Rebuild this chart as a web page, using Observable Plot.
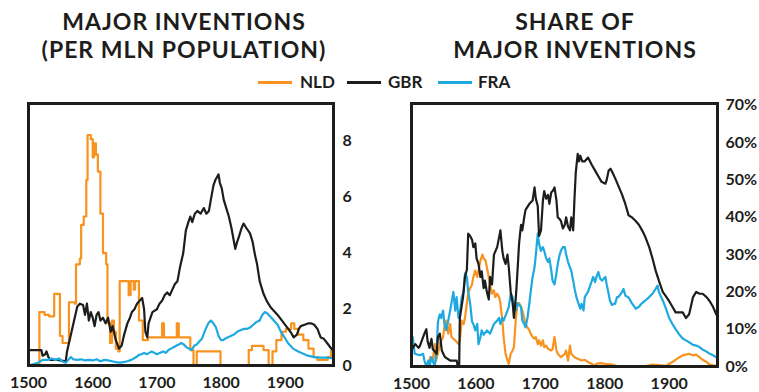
<!DOCTYPE html>
<html>
<head>
<meta charset="utf-8">
<script src="https://cdn.jsdelivr.net/npm/d3@7"></script>
<script src="https://cdn.jsdelivr.net/npm/@observablehq/plot@0.6"></script>
<style>
  html, body { margin: 0; padding: 0; background: #fff; }
  #wrap { position: relative; width: 759px; height: 392px; overflow: hidden; font-family: Lato, "DejaVu Sans", sans-serif; color: #1d1d1b; }
  .title { position: absolute; text-align: center; font-weight: 700; font-size: 23px; line-height: 28px; height: 28px; letter-spacing: 1px; white-space: nowrap; }
  .legend { position: absolute; top: 72px; left: 0; width: 759px; height: 20px; font-weight: 700; font-size: 17px; }
  .legend span.sw { position: absolute; top: 9px; height: 2.5px; }
  .legend span.lb { position: absolute; top: 0; line-height: 20px; }
  .panel { position: absolute; top: 95px; }
  .panel svg { overflow: visible; }
</style>
</head>
<body>
<div id="wrap">
  <div class="title" style="left:34px; width:300px; top:7px;">MAJOR INVENTIONS</div>
  <div class="title" style="left:34px; width:300px; top:35px;">(PER MLN POPULATION)</div>
  <div class="title" style="left:425px; width:300px; top:7px;">SHARE OF</div>
  <div class="title" style="left:425px; width:300px; top:35px;">MAJOR INVENTIONS</div>
  <div class="legend" id="legend"></div>
  <div class="panel" id="left" style="left:0px;"></div>
  <div class="panel" id="right" style="left:380px;"></div>
</div>
<script>
// ---------- data ----------
const seriesNames = ["NLD", "GBR", "FRA"];
const seriesColors = ["#F7931E", "#1d1d1b", "#1EA9E1"];
const yearTicks = [1500, 1600, 1700, 1800, 1900];
const perMlnTicks = [0, 2, 4, 6, 8];
const shareTicks = [0, 10, 20, 30, 40, 50, 60, 70];

// Major inventions per million population [year, value]
const nldPerMln = [[1500,0],[1517,1.9],[1525,1.8],[1532,1.75],[1540,2.55],[1549,1.05],[1553,0.8],[1563,2.25],[1572,2.2],[1574,3.6],[1580,3.8],[1582,5.0],[1586,5.3],[1590,6.6],[1592,8.2],[1597,8.05],[1600,7.4],[1602,7.9],[1605,7.5],[1608,6.9],[1612,5.4],[1616,4.0],[1621,3.6],[1623,1.5],[1627,0.8],[1630,1.6],[1633,1.2],[1636,0.6],[1640,0.5],[1642,3.0],[1654,3.0],[1656,2.5],[1659,3.0],[1664,2.7],[1666,3.0],[1672,1.6],[1678,0.9],[1686,1.0],[1708,1.5],[1711,1.0],[1731,1.5],[1734,1.0],[1752,0.55],[1757,0.0],[1762,0.5],[1799,0.0],[1843,0.55],[1848,0.7],[1866,0.55],[1874,0.0],[1880,0.5],[1886,0.9],[1894,1.2],[1901,1.3],[1909,1.5],[1914,1.3],[1920,1.1],[1928,0.9],[1936,0.6],[1944,0.3],[1950,0.2],[1966,0.3],[1971,0.5],[1975,0.5]];
const gbrPerMln = [[1500,0.55],[1510,0.55],[1520,0.55],[1522,0.35],[1526,0.4],[1528,0.5],[1531,0.3],[1534,0.2],[1545,0.2],[1558,0.15],[1560,0.5],[1565,1.0],[1571,1.6],[1576,2.1],[1580,2.2],[1585,2.15],[1588,1.8],[1591,2.2],[1594,1.6],[1597,1.9],[1600,1.7],[1603,1.4],[1606,1.8],[1609,1.9],[1612,1.6],[1616,1.7],[1620,1.5],[1624,1.7],[1628,1.2],[1631,1.4],[1636,0.9],[1641,0.6],[1645,0.7],[1649,1.1],[1654,1.5],[1658,1.7],[1661,1.9],[1665,2.0],[1669,2.2],[1673,2.3],[1677,2.4],[1680,2.0],[1682,1.2],[1685,1.0],[1687,1.5],[1693,1.9],[1700,2.0],[1704,2.2],[1708,2.3],[1712,2.5],[1716,2.6],[1720,2.5],[1724,2.7],[1728,2.9],[1732,3.0],[1736,3.5],[1741,4.0],[1745,4.8],[1749,5.1],[1752,5.3],[1755,5.1],[1759,5.4],[1763,5.5],[1768,5.4],[1773,5.6],[1777,5.4],[1781,5.5],[1784,5.9],[1788,6.4],[1791,6.6],[1796,6.8],[1798,6.5],[1801,6.3],[1804,5.9],[1808,5.6],[1812,5.3],[1816,4.9],[1820,4.4],[1822,4.15],[1825,4.4],[1828,4.6],[1832,4.9],[1835,5.05],[1839,4.9],[1845,4.7],[1849,4.4],[1853,3.9],[1856,3.6],[1860,3.0],[1866,2.55],[1871,2.3],[1877,2.07],[1882,1.95],[1888,1.8],[1893,1.65],[1898,1.5],[1903,1.35],[1908,1.2],[1913,1.0],[1918,1.1],[1921,1.3],[1924,1.4],[1930,1.45],[1936,1.5],[1940,1.5],[1945,1.45],[1950,1.3],[1955,1.0],[1960,0.95],[1965,0.8],[1970,0.65],[1975,0.5]];
const fraPerMln = [[1500,0.0],[1508,0.05],[1515,0.1],[1522,0.2],[1530,0.2],[1536,0.25],[1542,0.2],[1548,0.25],[1552,0.15],[1558,0.1],[1562,0.2],[1566,0.3],[1570,0.22],[1576,0.2],[1582,0.22],[1588,0.18],[1594,0.2],[1600,0.18],[1606,0.22],[1612,0.15],[1618,0.2],[1624,0.18],[1630,0.15],[1636,0.12],[1642,0.1],[1648,0.12],[1654,0.15],[1660,0.2],[1664,0.25],[1668,0.3],[1672,0.38],[1676,0.4],[1680,0.45],[1684,0.4],[1688,0.45],[1692,0.5],[1696,0.45],[1700,0.4],[1705,0.45],[1710,0.5],[1714,0.45],[1718,0.55],[1722,0.6],[1726,0.65],[1730,0.7],[1734,0.75],[1738,0.8],[1742,0.75],[1746,0.65],[1750,0.6],[1754,0.55],[1758,0.7],[1762,0.75],[1766,0.85],[1770,0.95],[1775,1.25],[1780,1.5],[1784,1.6],[1788,1.5],[1792,1.35],[1796,1.05],[1800,0.9],[1803,0.9],[1806,0.95],[1810,1.0],[1815,1.05],[1820,1.1],[1825,1.2],[1830,1.25],[1835,1.3],[1840,1.3],[1845,1.35],[1850,1.45],[1855,1.55],[1860,1.6],[1864,1.8],[1868,1.9],[1872,1.85],[1876,1.75],[1880,1.65],[1884,1.55],[1888,1.45],[1892,1.25],[1896,1.1],[1900,0.95],[1904,0.8],[1908,0.7],[1912,0.6],[1920,0.5],[1928,0.42],[1935,0.35],[1945,0.3],[1955,0.28],[1965,0.28],[1975,0.25]];

// Share of major inventions, percent [year, value]
const nldShare = [[1500,0],[1526,0],[1529,2.5],[1533,1.5],[1536,6],[1538,1.5],[1541,3.5],[1544,6],[1549,7.9],[1551,10.5],[1554,12.3],[1557,8.8],[1560,11.4],[1562,7.9],[1568,7],[1573,6],[1575,7],[1578,12.3],[1581,11.4],[1583,13],[1586,17],[1588,19.5],[1591,21],[1594,22],[1596,24],[1599,25.7],[1602,24],[1604,25.7],[1607,28.4],[1610,30],[1612,29],[1615,28.4],[1617,26.6],[1620,24],[1622,22],[1625,19.5],[1628,20.4],[1630,18.6],[1633,19.5],[1636,18.6],[1638,17],[1641,12.3],[1643,7.9],[1646,3.4],[1649,1.6],[1651,0.7],[1654,3.4],[1657,4.3],[1659,5.2],[1662,13],[1664,16],[1667,17],[1670,16],[1672,15],[1675,13],[1677,11.4],[1680,10.5],[1683,9.7],[1685,8.8],[1688,7.9],[1691,7.5],[1693,7.9],[1696,6],[1698,7],[1701,5.6],[1704,7],[1706,5.2],[1709,5.6],[1712,4.7],[1717,4.3],[1719,4.7],[1722,7.9],[1725,4.3],[1727,3.4],[1732,2.5],[1738,3.4],[1740,4.3],[1743,1.6],[1746,5.6],[1748,3.4],[1753,2.5],[1759,2.0],[1764,1.6],[1769,1.8],[1774,1.2],[1780,0.7],[1785,0.3],[1787,0.7],[1793,0.9],[1801,0.7],[1811,0.5],[1821,0],[1860,0],[1874,0.5],[1884,0.4],[1895,0.2],[1905,1.2],[1916,2.5],[1921,3.0],[1926,3.2],[1931,3.4],[1937,3.0],[1942,3.2],[1947,2.5],[1952,1.8],[1958,1.2],[1963,0.5],[1968,0.3],[1975,0.2]];
const gbrShare = [[1500,5.6],[1502,5.0],[1506,6.0],[1511,5.0],[1513,5.5],[1520,8.8],[1523,10.0],[1525,6.8],[1528,5.0],[1531,7.4],[1533,4.7],[1539,3.4],[1541,7.9],[1544,8.8],[1547,4.3],[1552,2.5],[1560,1.6],[1570,1.6],[1572,0],[1574,0],[1575,13],[1580,18.6],[1583,24],[1586,26],[1588,35.6],[1591,35],[1594,34],[1596,32],[1599,33],[1601,29],[1604,27.5],[1607,24],[1609,25.5],[1612,21],[1614,23],[1617,20],[1620,18],[1622,24],[1625,22],[1628,30],[1633,32],[1638,36.5],[1641,31],[1643,29],[1646,27.5],[1649,30],[1651,26.6],[1654,20],[1657,17],[1659,13],[1662,18.6],[1664,24],[1667,33],[1670,38],[1672,36.5],[1675,40],[1677,42],[1683,43.6],[1688,44.5],[1691,48],[1693,45],[1696,43],[1698,35],[1701,36.5],[1704,44.5],[1706,47],[1709,45],[1712,46],[1714,43.6],[1717,46.7],[1719,47],[1722,48],[1725,44.5],[1727,40],[1730,39.5],[1732,39],[1735,37],[1738,38],[1740,40],[1743,37.5],[1746,36.5],[1748,40],[1751,36.5],[1753,45],[1755,52],[1758,57],[1760,55],[1762,56.5],[1765,55],[1769,55],[1774,56],[1780,54],[1785,52.5],[1790,51],[1795,49.5],[1801,49],[1803,50],[1806,52.5],[1809,53],[1812,52],[1816,50.5],[1821,48.5],[1827,46],[1832,43.5],[1837,40.5],[1842,40],[1848,39],[1853,38],[1858,36.5],[1863,34.7],[1869,32],[1874,29],[1879,25.7],[1884,23],[1890,20],[1895,18.8],[1900,17.5],[1905,16],[1910,14.5],[1916,14.5],[1921,14.5],[1926,13],[1931,14],[1937,18.6],[1942,20],[1947,19.5],[1952,19.5],[1958,18.6],[1963,17.5],[1968,16],[1973,14],[1975,13.5]];
const fraShare = [[1500,7.9],[1502,7.9],[1505,3.4],[1513,3.0],[1518,3.4],[1520,1.6],[1523,0],[1526,1.6],[1528,0],[1531,2.5],[1536,0],[1539,4.3],[1541,12],[1544,14],[1546,13],[1549,15],[1551,11.5],[1554,9.7],[1557,12.3],[1560,15],[1562,17],[1565,20],[1568,15],[1570,18.6],[1573,13],[1575,14],[1578,18.6],[1581,20],[1583,25],[1586,24],[1588,20],[1591,17],[1594,12],[1596,11.4],[1599,9.7],[1602,11.4],[1604,6],[1607,7.9],[1609,9.7],[1612,8.5],[1617,9.7],[1622,8.8],[1628,11.4],[1633,12.3],[1636,13],[1638,11.4],[1641,13],[1643,12.3],[1649,15],[1651,16],[1654,19.5],[1657,18.6],[1659,17],[1662,15],[1664,17],[1670,16],[1672,12.3],[1675,11.4],[1677,10.5],[1680,13],[1683,17],[1685,20],[1688,24],[1691,26.6],[1693,30],[1696,35.6],[1698,32.9],[1701,31],[1704,32],[1706,31],[1709,29],[1712,28],[1714,29],[1717,25.7],[1719,23],[1722,22],[1725,25],[1727,27.5],[1730,30],[1732,31],[1735,32],[1738,32],[1740,30],[1743,28],[1746,26.6],[1748,25.7],[1751,23],[1753,21],[1756,18.6],[1759,17],[1762,15.5],[1764,16.8],[1767,15],[1769,18.6],[1772,19.5],[1774,20],[1780,23],[1782,24],[1785,22.6],[1787,24],[1790,25.3],[1793,23.5],[1796,23],[1798,23.5],[1801,24],[1803,22],[1806,19.5],[1808,17.7],[1811,16.5],[1814,16.8],[1816,16.8],[1819,18.6],[1821,18.6],[1827,20],[1829,20.8],[1832,19],[1837,18.5],[1842,17],[1848,15.5],[1853,16],[1858,17],[1863,17.7],[1869,18.6],[1874,19.5],[1879,20.8],[1882,21.7],[1884,20],[1890,17.7],[1895,15.5],[1900,13],[1905,11.4],[1910,10],[1916,8.5],[1921,7.5],[1926,7],[1931,6.5],[1937,5.8],[1942,5.6],[1947,5.2],[1952,4.5],[1958,4],[1963,3.4],[1968,3],[1973,2.5],[1975,2.3]];

// ---------- build ----------
const toRows = (pairs, name) => pairs.map(([year, value]) => ({year, value, name}));
const colorScale = {domain: seriesNames, range: seriesColors};
const fontCss = "font-family: Lato, 'DejaVu Sans', sans-serif; font-weight: 700; font-size: 16px; color: #1d1d1b; background: transparent;";

const leftPlot = Plot.plot({
  width: 380, height: 297,
  marginLeft: 28, marginRight: 47, marginTop: 8, marginBottom: 27,
  style: fontCss,
  x: {domain: [1500, 1975]},
  y: {domain: [0, 9.32]},
  color: colorScale,
  marks: [
    Plot.line(toRows(nldPerMln, "NLD"), {x: "year", y: "value", stroke: "name", strokeWidth: 2.2, curve: "step-after"}),
    Plot.line(toRows(gbrPerMln, "GBR"), {x: "year", y: "value", stroke: "name", strokeWidth: 2.2}),
    Plot.line(toRows(fraPerMln, "FRA"), {x: "year", y: "value", stroke: "name", strokeWidth: 2.2}),
    Plot.frame({stroke: "#1d1d1b", strokeWidth: 3}),
    Plot.axisX({ticks: yearTicks, tickFormat: d3.format("d"), tickSize: 0, tickPadding: 11, label: null, fontSize: 16}),
    Plot.axisY({anchor: "right", ticks: perMlnTicks, tickFormat: d3.format("d"), tickSize: 0, tickPadding: 9, label: null, fontSize: 16})
  ]
});
document.getElementById("left").appendChild(leftPlot);

const rightPlot = Plot.plot({
  width: 379, height: 297,
  marginLeft: 31, marginRight: 42, marginTop: 8, marginBottom: 26,
  style: fontCss,
  x: {domain: [1500, 1975]},
  y: {domain: [0, 70.5]},
  color: colorScale,
  marks: [
    Plot.line(toRows(nldShare, "NLD"), {x: "year", y: "value", stroke: "name", strokeWidth: 2.2}),
    Plot.line(toRows(fraShare, "FRA"), {x: "year", y: "value", stroke: "name", strokeWidth: 2.2}),
    Plot.line(toRows(gbrShare, "GBR"), {x: "year", y: "value", stroke: "name", strokeWidth: 2.2}),
    Plot.frame({stroke: "#1d1d1b", strokeWidth: 3}),
    Plot.axisX({ticks: yearTicks, tickFormat: d3.format("d"), tickSize: 0, tickPadding: 11, label: null, fontSize: 16}),
    Plot.axisY({anchor: "right", ticks: shareTicks, tickFormat: d => d + "%", tickSize: 0, tickPadding: 8, label: null, fontSize: 16})
  ]
});
document.getElementById("right").appendChild(rightPlot);

// legend
const legend = document.getElementById("legend");
const swatchX = [258, 347, 438];
const labelX = [300, 388, 478];
seriesNames.forEach((n, i) => {
  const sw = document.createElement("span");
  sw.className = "sw";
  sw.style.left = swatchX[i] + "px";
  sw.style.width = "34px";
  sw.style.background = seriesColors[i];
  legend.appendChild(sw);
  const lb = document.createElement("span");
  lb.className = "lb";
  lb.style.left = labelX[i] + "px";
  lb.textContent = n;
  legend.appendChild(lb);
});
</script>
</body>
</html>
